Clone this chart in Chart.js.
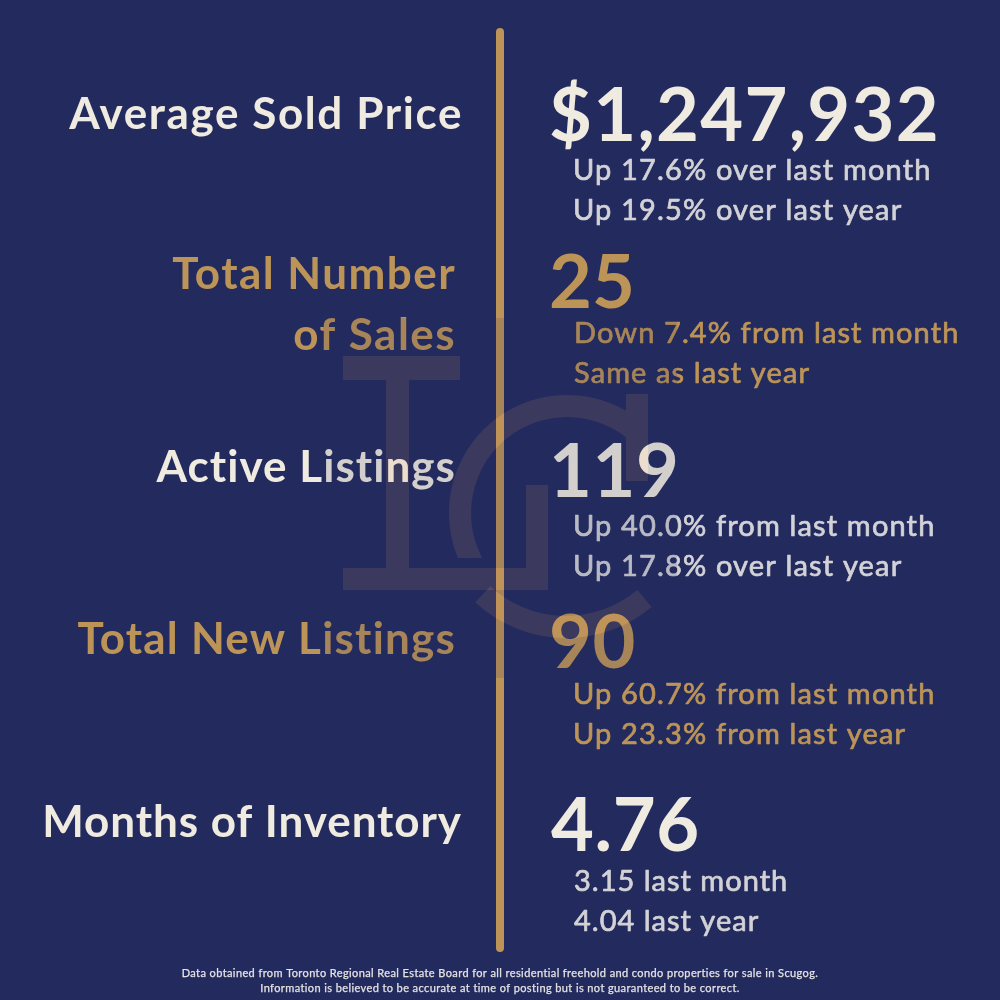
<!DOCTYPE html>
<html>
<head>
    <title>Scugog Market Stats</title>
    <script src="https://cdn.jsdelivr.net/npm/chart.js@4"></script>
    <style>
        body { margin: 0; background: #232b5e; }
        canvas { display: block; }
    </style>
</head>
<body>
    <canvas id="statsChart" width="1000" height="1000"></canvas>
    <script>
        // values
        var metricLabels = [['Average Sold Price'], ['Total Number', 'of Sales'], ['Active Listings'], ['Total New Listings'], ['Months of Inventory']];
        var metricValues = ['$1,247,932', '25', '119', '90', '4.76'];
        var comparisonsMonth = ['Up 17.6% over last month', 'Down 7.4% from last month', 'Up 40.0% from last month', 'Up 60.7% from last month', '3.15 last month'];
        var comparisonsYear = ['Up 19.5% over last year', 'Same as last year', 'Up 17.8% over last year', 'Up 23.3% from last year', '4.04 last year'];
        var footnotes = [
            'Data obtained from Toronto Regional Real Estate Board for all residential freehold and condo properties for sale in Scugog.',
            'Information is believed to be accurate at time of posting but is not guaranteed to be correct.'
        ];
        var dividerX = [500, 500];
        var dividerY = [32, 948];

        var NAVY = '#232b5e', CREAM = '#f0ebe0', GREY = '#d3d2d6', GOLD = '#bd9458';
        var FONT = 'Lato';

        // layout of each row, baselines and per-row tracking to match the original widths
        var rows = [
            { labelY: [129], labelRight: 463, labelGap: 1.6, valueX: 549, valueY: 141, valueGap: 1.3, subX: 573, subGap: 1.15, sub1: 180, sub2: 220, color: CREAM, sub: GREY },
            { labelY: [289, 350], labelRight: 456, labelGap: 1.45, valueX: 549, valueY: 308, valueGap: 0, subX: 574, subGap: 1.1, sub1: 343, sub2: 383, color: GOLD, sub: GOLD },
            { labelY: [482], labelRight: 456, labelGap: 1.05, valueX: 549, valueY: 497, valueGap: 0.6, subX: 573, subGap: 1.15, sub1: 536, sub2: 576, color: CREAM, sub: GREY },
            { labelY: [654], labelRight: 456, labelGap: 1.2, valueX: 549, valueY: 668, valueGap: 0.6, subX: 573, subGap: 1.15, sub1: 704, sub2: 744, color: GOLD, sub: GOLD },
            { labelY: [837], labelRight: 462, labelGap: 0.95, valueX: 551, valueY: 851, valueGap: 0.6, subX: 574, subGap: 1.0, sub1: 891, sub2: 931, color: CREAM, sub: GREY }
        ];

        function drawText(ctx, text, x, y, size, weight, spacing, align, color, stroke) {
            ctx.font = weight + ' ' + size + 'px ' + FONT;
            ctx.letterSpacing = spacing + 'px';
            ctx.textAlign = align;
            ctx.textBaseline = 'alphabetic';
            ctx.fillStyle = color;
            ctx.fillText(text, x, y);
            if (stroke) {
                ctx.strokeStyle = color;
                ctx.lineWidth = stroke;
                ctx.lineJoin = 'round';
                ctx.strokeText(text, x, y);
            }
        }

        var backgroundPlugin = {
            id: 'navyBackground',
            beforeDraw: function(chart) {
                chart.ctx.save();
                chart.ctx.fillStyle = NAVY;
                chart.ctx.fillRect(0, 0, chart.width, chart.height);
                chart.ctx.restore();
            }
        };

        var textPlugin = {
            id: 'statText',
            afterDatasetsDraw: function(chart) {
                var ctx = chart.ctx;
                ctx.save();
                rows.forEach(function(row, i) {
                    metricLabels[i].forEach(function(line, j) {
                        drawText(ctx, line, row.labelRight, row.labelY[j], 44, 700, row.labelGap, 'right', row.color, 0);
                    });
                    drawText(ctx, metricValues[i], row.valueX, row.valueY, 74, 700, row.valueGap, 'left', row.color, 0);
                    drawText(ctx, comparisonsMonth[i], row.subX, row.sub1, 29, 400, row.subGap, 'left', row.sub, 0.7);
                    drawText(ctx, comparisonsYear[i], row.subX, row.sub2, 29, 400, row.subGap, 'left', row.sub, 0.7);
                });
                footnotes.forEach(function(line, i) {
                    drawText(ctx, line, 500, 977 + i * 15, 11, 400, 0.4, 'center', '#e4e3e4', 0.25);
                });
                ctx.restore();
            }
        };

        // LC monogram block: fades what is under it, then adds a faint tint
        var monogramPlugin = {
            id: 'monogram',
            afterDraw: function(chart) {
                var ctx = chart.ctx;
                ctx.save();
                ctx.fillStyle = 'rgba(35,43,94,0.14)';
                ctx.fillRect(323, 318, 354, 360);

                ctx.globalCompositeOperation = 'lighter';
                ctx.fillStyle = 'rgb(25,15,1)';
                ctx.strokeStyle = 'rgb(25,15,1)';
                ctx.beginPath();
                ctx.rect(343, 356, 117, 24);
                ctx.rect(386, 380, 23, 188);
                ctx.rect(343, 568, 205, 22);
                ctx.rect(526, 485, 22, 83);
                ctx.rect(626, 394, 22, 87);
                ctx.fill();

                ctx.lineWidth = 22;
                // upper part of the C, cut flat at its two ends
                ctx.save();
                ctx.beginPath();
                ctx.rect(440, 380, 186, 178);
                ctx.clip();
                ctx.beginPath();
                ctx.arc(567, 513, 107, Math.PI * 0.5, Math.PI * 1.75);
                ctx.stroke();
                ctx.restore();
                // lower part of the C
                ctx.beginPath();
                ctx.arc(566, 505, 122, Math.PI * 50 / 180, Math.PI * 133 / 180);
                ctx.stroke();
                ctx.restore();
            }
        };

        var chart = new Chart(document.getElementById('statsChart'), {
            type: 'line',
            data: {
                datasets: [{
                    data: dividerX.map(function(x, i) { return { x: x, y: dividerY[i] }; }),
                    borderColor: GOLD,
                    borderWidth: 8,
                    borderCapStyle: 'round',
                    pointRadius: 0,
                    clip: false
                }]
            },
            options: {
                responsive: false,
                animation: false,
                layout: { padding: 0 },
                plugins: { legend: { display: false }, tooltip: { enabled: false } },
                scales: {
                    x: { type: 'linear', min: 0, max: 1000, display: false },
                    y: { type: 'linear', min: 0, max: 1000, reverse: true, display: false }
                }
            },
            plugins: [backgroundPlugin, textPlugin, monogramPlugin]
        });
    </script>
</body>
</html>
